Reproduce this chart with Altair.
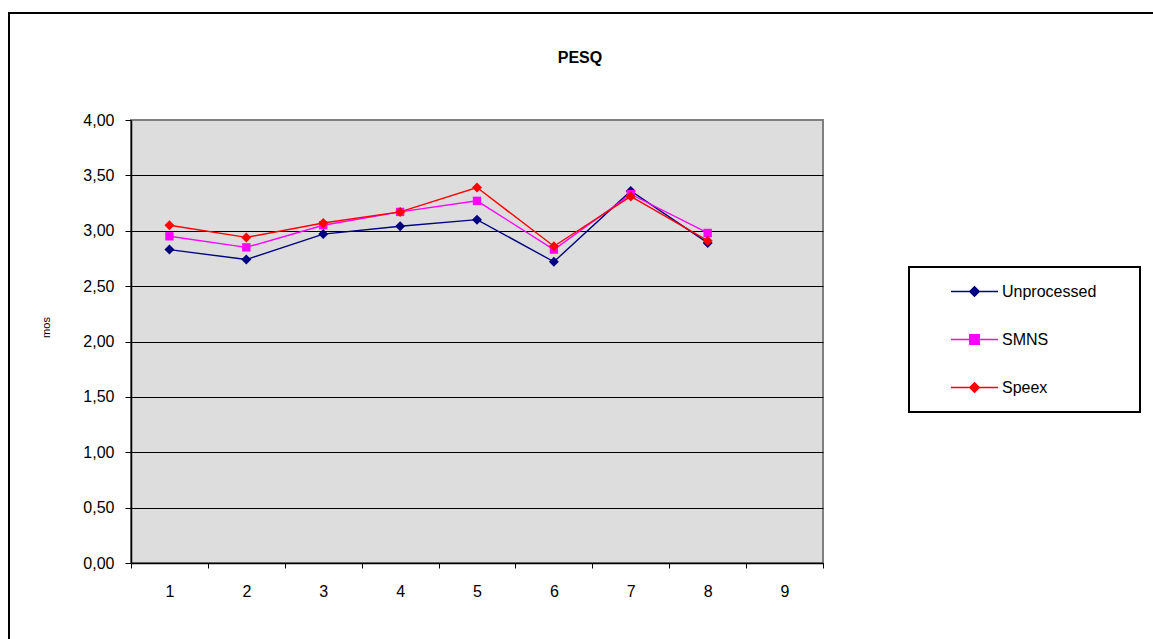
import altair as alt
import pandas as pd

# PESQ scores per test file for each processing method
files = ["1", "2", "3", "4", "5", "6", "7", "8"]
categories = ["1", "2", "3", "4", "5", "6", "7", "8", "9"]
unprocessed = [2.83, 2.74, 2.97, 3.04, 3.10, 2.72, 3.36, 2.89]
smns = [2.95, 2.85, 3.05, 3.17, 3.27, 2.83, 3.33, 2.98]
speex = [3.05, 2.94, 3.07, 3.17, 3.39, 2.86, 3.31, 2.91]

series_names = ["Unprocessed", "SMNS", "Speex"]
series_colors = ["#000080", "#FF00FF", "#FF0000"]
series_shapes = ["diamond", "square", "diamond"]
y_ticks = [0, 0.5, 1, 1.5, 2, 2.5, 3, 3.5, 4]

# legend symbols: a short line with the marker on it
legend_paths = [
    "M-1,0H1M0,-0.2L0.2,0L0,0.2L-0.2,0Z",
    "M-1,0H1M-0.2,-0.2H0.2V0.2H-0.2Z",
    "M-1,0H1M0,-0.2L0.2,0L0,0.2L-0.2,0Z",
]

rows = []
for name, vals in zip(series_names, [unprocessed, smns, speex]):
    for f, v in zip(files, vals):
        rows.append({"file": f, "mos": v, "series": name})
df = pd.DataFrame(rows)

FONT = "Liberation Sans"
W, H = 692, 443

color_scale = alt.Scale(domain=series_names, range=series_colors)

x_enc = alt.X(
    "file:O",
    scale=alt.Scale(type="band", domain=categories, paddingInner=0, paddingOuter=0),
    bandPosition=0.5,
    axis=alt.Axis(
        title=None,
        labelAngle=0,
        tickBand="extent",
        tickSize=5,
        tickColor="black",
        domainColor="black",
        domainWidth=1.5,
        labelFont=FONT,
        labelFontSize=16,
        labelColor="black",
        labelPadding=15,
    ),
)
y_enc = alt.Y(
    "mos:Q",
    scale=alt.Scale(domain=[0, 4], nice=False, zero=True),
    axis=alt.Axis(
        title="mos",
        values=y_ticks,
        labelExpr="replace(format(datum.value, '.2f'), '.', ',')",
        gridColor={"condition": {"test": "datum.value >= 4", "value": "transparent"}, "value": "black"},
        gridWidth=1,
        tickSize=6,
        tickColor="black",
        domainColor="black",
        domainWidth=1.5,
        labelFont=FONT,
        labelFontSize=16,
        labelColor="black",
        labelPadding=11,
        titleFont=FONT,
        titleFontSize=11,
        titleFontWeight="normal",
        titleColor="black",
        titleAngle=-90,
        titleX=-85,
        titleY=207,
        titleAlign="center",
        titleBaseline="middle",
    ),
)

base = alt.Chart(df)

layers = []
for name, color, shape in zip(series_names, series_colors, series_shapes):
    sub = base.transform_filter(alt.datum.series == name)
    layers.append(
        sub.mark_line(strokeWidth=1.4, color=color).encode(
            x=x_enc, y=y_enc, detail="series:N"
        )
    )
    layers.append(
        sub.mark_point(filled=True, opacity=1, shape=shape,
                       size=100 if shape == "diamond" else 70, color=color).encode(
            x=x_enc, y=y_enc
        )
    )

# legend carrier: no rows drawn, the scales supply the entries
legend_layer = base.transform_filter("false").mark_point(filled=True, opacity=1, strokeWidth=1.5).encode(
    x=x_enc,
    y=y_enc,
    color=alt.Color("series:N", scale=color_scale, legend=alt.Legend(title=None)),
    stroke=alt.Stroke("series:N", scale=color_scale, legend=alt.Legend(title=None)),
    shape=alt.Shape("series:N", scale=alt.Scale(domain=series_names, range=legend_paths),
                    legend=alt.Legend(title=None)),
)

one = alt.Data(values=[{}])
outer_frame = alt.Chart(one).mark_rect(fill="transparent", stroke="black", strokeWidth=2).encode(
    x=alt.value(-122), x2=alt.value(1100), y=alt.value(-107), y2=alt.value(600)
)
legend_frame = alt.Chart(one).mark_rect(fill="white", stroke="black", strokeWidth=2).encode(
    x=alt.value(778), x2=alt.value(1009), y=alt.value(147), y2=alt.value(292)
)
chart_title = alt.Chart(one).mark_text(
    font=FONT, fontSize=16, fontWeight="bold", color="black", align="center", baseline="middle"
).encode(x=alt.value(449), y=alt.value(-62), text=alt.value("PESQ"))

chart = (
    alt.layer(outer_frame, legend_frame, chart_title, *layers, legend_layer)
    .properties(
        width=W,
        height=H,
        autosize=alt.AutoSizeParams(type="none"),
        padding={"left": 131, "top": 120, "right": 330, "bottom": 76},
        background="white",
    )
    .configure_view(fill="#DDDDDD", stroke="#808080", strokeWidth=2)
    .configure_legend(
        orient="none",
        legendX=819,
        legendY=147,
        symbolSize=2209,
        symbolStrokeWidth=1.5,
        symbolOpacity=1,
        labelFont=FONT,
        labelFontSize=16,
        labelColor="black",
        labelOffset=3,
        rowPadding=15,
        padding=0,
    )
)

chart.save("out.html", embed_options={"renderer": "svg", "actions": False})
